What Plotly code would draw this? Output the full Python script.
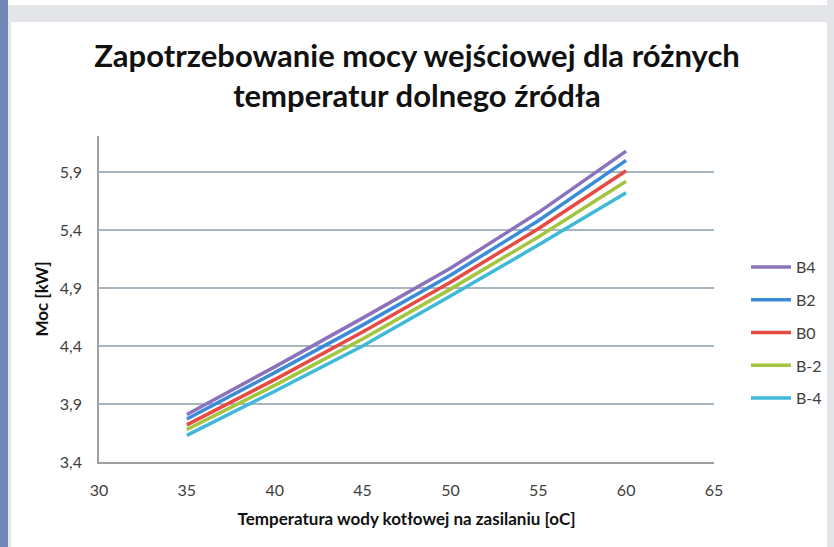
import plotly.graph_objects as go

temps = [35, 40, 45, 50, 55, 60]
b4 = [3.81, 4.22, 4.64, 5.07, 5.55, 6.08]
b2 = [3.77, 4.17, 4.58, 5.01, 5.48, 6.00]
b0 = [3.72, 4.11, 4.52, 4.95, 5.41, 5.91]
bm2 = [3.68, 4.06, 4.46, 4.89, 5.34, 5.82]
bm4 = [3.63, 4.01, 4.40, 4.83, 5.27, 5.72]
series_names = ["B4", "B2", "B0", "B-2", "B-4"]
series_vals = [b4, b2, b0, bm2, bm4]
colors = ["#8a72bd", "#3a8bd8", "#e64a42", "#a3c540", "#3ebad8"]

W, H = 834, 547
L, R, T, B = 99, 714, 136, 462

fig = go.Figure()
for i, (n, v, c) in enumerate(zip(series_names, series_vals, colors)):
    fig.add_trace(go.Scatter(x=temps, y=v, name=n, mode="lines",
                             line=dict(color=c, width=3.5),
                             legendgroup=n))

def px(x):
    return (x - L) / (R - L)

def py(y):
    return (B - y) / (B - T)

shapes = [
    dict(type="rect", xref="paper", yref="paper", x0=px(0), x1=px(W), y0=py(22), y1=py(5),
         fillcolor="#e4e5e8", line=dict(width=0), layer="below"),
    dict(type="rect", xref="paper", yref="paper", x0=px(0), x1=px(8), y0=py(H), y1=py(0),
         fillcolor="#6f88b5", line=dict(width=0), layer="below"),
    dict(type="rect", xref="paper", yref="paper", x0=px(8), x1=px(11), y0=py(H), y1=py(22),
         fillcolor="#e4e5e8", line=dict(width=0), layer="below"),
    dict(type="rect", xref="paper", yref="paper", x0=px(827), x1=px(W), y0=py(H), y1=py(0),
         fillcolor="#e4e5e8", line=dict(width=0), layer="below"),
]

FONT = "Lato, 'Open Sans', sans-serif"

fig.update_layout(
    width=W, height=H, autosize=False,
    margin=dict(l=L, r=W - R, t=T, b=H - B, pad=0, autoexpand=False),
    paper_bgcolor="white", plot_bgcolor="white",
    separators=", ",
    font=dict(family=FONT, color="#404040", size=16),
    title=dict(text="<b>Zapotrzebowanie mocy wejściowej dla różnych<br>temperatur dolnego źródła</b>",
               x=417 / W, xref="container", xanchor="center", y=1 - 67 / H, yanchor="top",
               font=dict(size=31, color="#111111", family=FONT)),
    xaxis=dict(range=[30, 65], tick0=30, dtick=5, showgrid=False, zeroline=False,
               showline=True, linecolor="#a0a0a0", linewidth=1.5, ticks="",
               ticklabelstandoff=13,
               tickfont=dict(size=16, color="#404040"),
               title=dict(text="<b>Temperatura wody kotłowej na zasilaniu [oC]</b>",
                          font=dict(size=17, color="#111111"), standoff=15)),
    yaxis=dict(range=[3.4, 6.21], tick0=3.4, dtick=0.5, tickformat=".1f",
               showgrid=True, gridcolor="#a9b5bf", gridwidth=1.5, zeroline=False,
               showline=True, linecolor="#a0a0a0", linewidth=1.5, ticks="",
               ticklabelstandoff=12,
               tickfont=dict(size=16, color="#404040"),
               title=dict(text="<b>Moc [kW]</b>", font=dict(size=17, color="#111111"), standoff=7)),
    legend=dict(x=px(746), xanchor="left", y=py(250), yanchor="top",
                font=dict(size=16, color="#404040"), tracegroupgap=9,
                bgcolor="rgba(0,0,0,0)", itemwidth=40),
    shapes=shapes,
    showlegend=True,
)

fig.write_html("out.html", config={"displayModeBar": False},
               post_script="document.body.style.margin='0';document.body.style.padding='0';")
